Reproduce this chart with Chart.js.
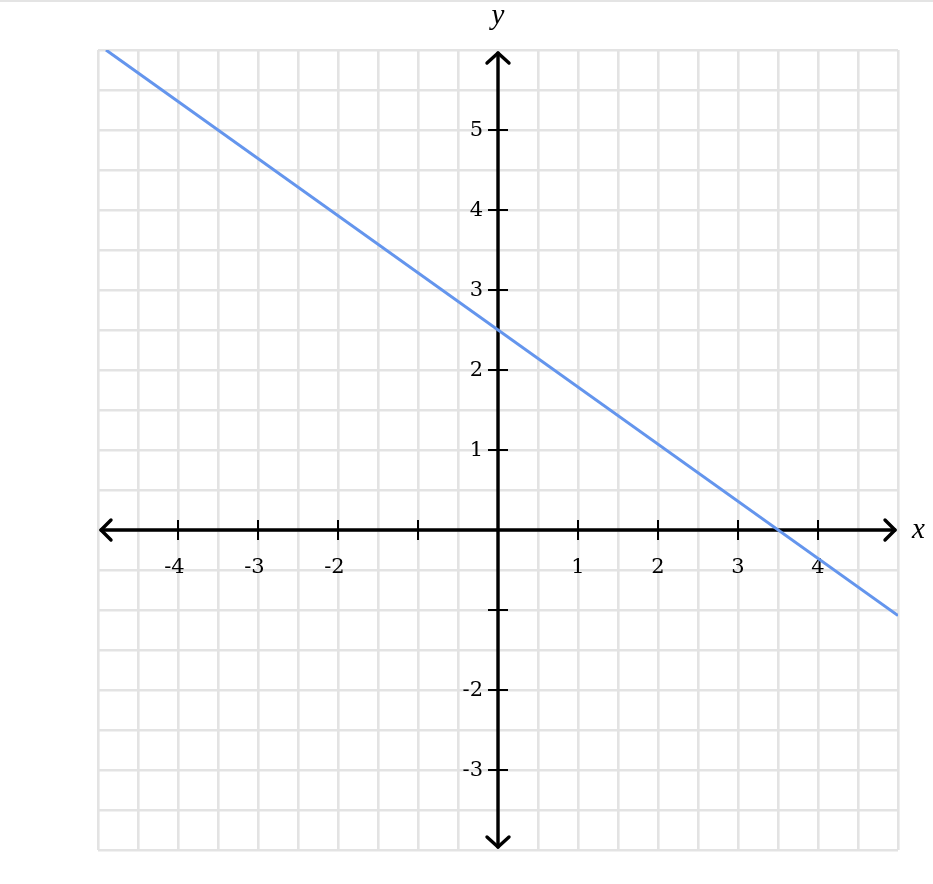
<!DOCTYPE html>
<html>
<head>
<meta charset="utf-8">
<script src="https://cdn.jsdelivr.net/npm/chart.js@4"></script>
<style>
  html, body { margin: 0; padding: 0; background: #fff; }
  #wrap { position: relative; width: 933px; height: 884px; border-top: 2px solid #e4e4e4; box-sizing: border-box; }
  canvas { display: block; }
</style>
</head>
<body>
<div id="wrap"><canvas id="graph" width="933" height="882"></canvas></div>
<script>
"use strict";

// line end points
const lineX = [-4.9, 5];
const lineY = [6, -1.07];

// axis ranges and tick labels
const xMin = -5, xMax = 5;
const yMin = -4, yMax = 6;
const xTicks = [-4, -3, -2, -1, 1, 2, 3, 4];
const yTicks = [-3, -2, -1, 1, 2, 3, 4, 5];
const xLabels = ["-4", "-3", "-2", "", "1", "2", "3", "4"];
const yLabels = ["-3", "-2", "", "1", "2", "3", "4", "5"];

const FONT = "'DejaVu Serif', 'Liberation Serif', serif";
const ITALIC = "'Liberation Serif', 'DejaVu Serif', serif";

function chevron(ctx, tx, ty, ax, ay, bx, by) {
  ctx.beginPath();
  ctx.moveTo(ax, ay);
  ctx.lineTo(tx, ty);
  ctx.lineTo(bx, by);
  ctx.stroke();
}

const axesPlugin = {
  id: "axes",
  beforeDatasetsDraw(chart) {
    const ctx = chart.ctx;
    const xs = chart.scales.x, ys = chart.scales.y;
    const x0 = xs.getPixelForValue(0), y0 = ys.getPixelForValue(0);
    const left = xs.getPixelForValue(xMin), right = xs.getPixelForValue(xMax);
    const top = ys.getPixelForValue(yMax), bottom = ys.getPixelForValue(yMin);

    ctx.save();
    ctx.strokeStyle = "#000";
    ctx.lineCap = "round";
    ctx.lineJoin = "round";

    // main axes
    ctx.lineWidth = 3.4;
    ctx.beginPath();
    ctx.moveTo(left + 3, y0); ctx.lineTo(right - 3, y0);
    ctx.moveTo(x0, top + 3); ctx.lineTo(x0, bottom - 3);
    ctx.stroke();

    // arrow heads
    chevron(ctx, left + 3, y0, left + 13, y0 - 10, left + 13, y0 + 10);
    chevron(ctx, right - 3, y0, right - 13, y0 - 10, right - 13, y0 + 10);
    chevron(ctx, x0, top + 3, x0 - 11, top + 13, x0 + 11, top + 13);
    chevron(ctx, x0, bottom - 3, x0 - 11, bottom - 13, x0 + 11, bottom - 13);

    // tick marks
    ctx.lineWidth = 2;
    ctx.lineCap = "butt";
    ctx.beginPath();
    xTicks.forEach(v => {
      const px = xs.getPixelForValue(v);
      ctx.moveTo(px, y0 - 10); ctx.lineTo(px, y0 + 10);
    });
    yTicks.forEach(v => {
      const py = ys.getPixelForValue(v);
      ctx.moveTo(x0 - 10, py); ctx.lineTo(x0 + 10, py);
    });
    ctx.stroke();

    // tick labels
    ctx.fillStyle = "#000";
    ctx.font = "21px " + FONT;
    ctx.textBaseline = "alphabetic";
    xTicks.forEach((v, i) => {
      const txt = xLabels[i];
      if (!txt) return;
      const px = xs.getPixelForValue(v);
      const digits = txt.replace("-", "");
      const dw = ctx.measureText(digits).width;
      ctx.textAlign = "right";
      ctx.fillText(txt, px + dw / 2, y0 + 43);
    });
    ctx.textAlign = "right";
    ctx.textBaseline = "middle";
    yTicks.forEach((v, i) => {
      const txt = yLabels[i];
      if (!txt) return;
      ctx.fillText(txt, x0 - 15, ys.getPixelForValue(v) + 1);
    });

    // axis names
    ctx.font = "italic 29px " + ITALIC;
    ctx.textAlign = "center";
    ctx.textBaseline = "middle";
    ctx.fillText("y", x0, top - 34);
    ctx.textAlign = "left";
    ctx.fillText("x", right + 14, y0);
    ctx.restore();
  }
};

new Chart(document.getElementById("graph"), {
  type: "scatter",
  data: {
    datasets: [{
      data: lineX.map((x, i) => ({ x: x, y: lineY[i] })),
      showLine: true,
      borderColor: "#6495ed",
      borderWidth: 3,
      pointRadius: 0,
      fill: false
    }]
  },
  options: {
    responsive: false,
    animation: false,
    layout: { padding: { left: 98, right: 35, top: 48, bottom: 34 } },
    plugins: { legend: { display: false }, tooltip: { enabled: false } },
    scales: {
      x: {
        type: "linear", min: xMin, max: xMax,
        ticks: { display: false, stepSize: 0.5 },
        grid: { color: "#e3e3e3", lineWidth: 2.6, drawTicks: false },
        border: { display: false },
        afterFit: s => { s.height = 0; }
      },
      y: {
        type: "linear", min: yMin, max: yMax,
        ticks: { display: false, stepSize: 0.5 },
        grid: { color: "#e3e3e3", lineWidth: 2.6, drawTicks: false },
        border: { display: false },
        afterFit: s => { s.width = 0; }
      }
    }
  },
  plugins: [axesPlugin]
});
</script>
</body>
</html>
